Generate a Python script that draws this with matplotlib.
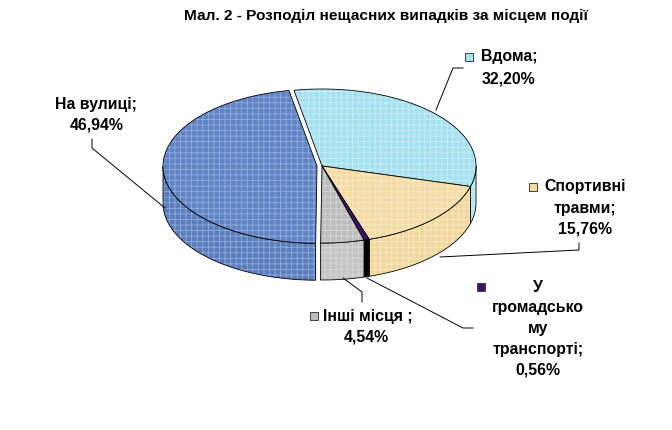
import numpy as np
import matplotlib.pyplot as plt
from matplotlib.patches import Polygon, Rectangle

plt.rcParams['font.family'] = ['Liberation Sans', 'DejaVu Sans']
plt.rcParams['hatch.linewidth'] = 0.6

# дані
categories = ['Вдома', 'Спортивні травми', 'У громадському транспорті', 'Інші місця', 'На вулиці']
values = [32.20, 15.76, 0.56, 4.54, 46.94]
label_lines = [['Вдома;', '32,20%'],
               ['Спортивні', 'травми;', '15,76%'],
               ['У', 'громадсько', 'му', 'транспорті;', '0,56%'],
               ['Інші місця ;', '4,54%'],
               ['На вулиці;', '46,94%']]

top_colors = ['#A6E0EE', '#F3DBA6', '#3C1464', '#BBBBBB', '#6183C2']
side_colors = ['#B3EAF5', '#F1D79E', '#000000', '#C4C4C4', '#5B7DBA']
hatch_colors = ['#C6F0F8', '#F8E8C4', None, '#D8D8D8', '#8EAEE2']
key_colors = ['#A8E2EE', '#F3DBA6', '#3C1464', '#BDBDBD', None]
explode = [0, 0, 0, 0, 5]

# геометрія 3D кола
cx, cy, rx, ry, depth = 322, 166, 154, 77, 37
start = -10.5

fig = plt.figure(figsize=(6.72, 4.30), dpi=100)
ax = fig.add_axes([0, 0, 1, 1])
ax.set_xlim(0, 672)
ax.set_ylim(430, 0)
ax.axis('off')

spans = np.array(values) / np.sum(values) * 360.0
a_end = start + np.cumsum(spans)
a_start = a_end - spans

def offs(i):
    mid = np.radians((a_start[i] + a_end[i]) / 2)
    return explode[i] * np.sin(mid), -explode[i] * np.cos(mid) * ry / rx

def arc(t0, t1, dx, dy, n=80):
    t = np.radians(np.linspace(t0, t1, n))
    return cx + dx + rx * np.sin(t), cy + dy - ry * np.cos(t)

def face(pts, fc, hc, z):
    ax.add_patch(Polygon(pts, closed=True, facecolor=fc, edgecolor='none', zorder=z))
    if hc is not None:
        # легка текстура
        ax.add_patch(Polygon(pts, closed=True, facecolor='none', edgecolor=hc,
                             hatch='+++', lw=0, zorder=z))
    ax.add_patch(Polygon(pts, closed=True, facecolor='none', edgecolor='black',
                         lw=0.6, zorder=z))

# бокові стінки (лише передня половина)
for i in range(len(values)):
    lo = max(a_start[i], 90)
    hi = min(a_end[i], 270)
    if hi <= lo:
        continue
    dx, dy = offs(i)
    x, y = arc(lo, hi, dx, dy)
    pts = np.column_stack([np.r_[x, x[::-1]], np.r_[y, y[::-1] + depth]])
    face(pts, side_colors[i], hatch_colors[i], 2)

# верхні грані
for i in range(len(values)):
    dx, dy = offs(i)
    x, y = arc(a_start[i], a_end[i], dx, dy)
    pts = np.column_stack([np.r_[cx + dx, x], np.r_[cy + dy, y]])
    face(pts, top_colors[i], hatch_colors[i], 3)

# підписи
title = 'Мал. 2 - Розподіл нещасних випадків за місцем події'
ax.text(386, 16, title, ha='center', va='center', fontsize=11.1, fontweight='bold')

fs = 11.4
# (x першого рядка, y першого рядка, крок, x квадратика, x центру наступних рядків)
lab_pos = [(481, 57, 22, 469, 508),
           (544, 187, 21, 533, 585),
           (538, 287, 20.7, 481, 538),
           (323, 316, 21, 314, 366),
           (55, 105, 20, None, 97)]

for i, lines in enumerate(label_lines):
    x0, y0, step, kx, xc = lab_pos[i]
    if kx is not None:
        ax.add_patch(Rectangle((kx - 4, y0 - 4), 8, 8, facecolor=key_colors[i],
                               edgecolor='#404040', lw=0.7, zorder=4))
    for j, s in enumerate(lines):
        if j == 0 and i != 2:
            ax.text(x0, y0, s, ha='left', va='center', fontsize=fs, fontweight='bold')
        else:
            ax.text(xc, y0 + j * step, s, ha='center', va='center', fontsize=fs, fontweight='bold')

# лінії виносок
leaders = [([463, 453, 436], [68, 68, 110]),
           ([579, 579, 440], [243, 250, 257]),
           ([473, 463, 367], [328, 328, 278]),
           ([362, 362, 343], [302, 292, 278]),
           ([92, 92, 165], [139, 148, 208])]
for lx, ly in leaders:
    ax.plot(lx, ly, color='black', lw=0.7, zorder=5)

fig.savefig('out.png', dpi=100, facecolor='white')
